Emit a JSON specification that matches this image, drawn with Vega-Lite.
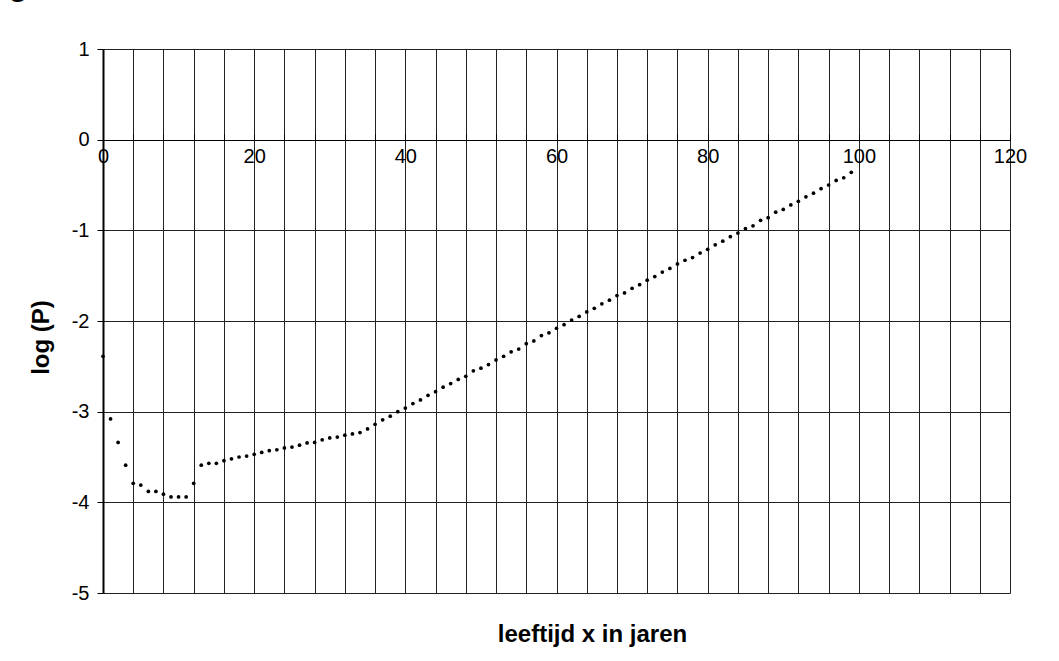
{
  "$schema": "https://vega.github.io/schema/vega-lite/v6.json",
  "width": 907,
  "height": 544,
  "autosize": {"type": "none"},
  "padding": {"left": 103, "top": 49, "right": 49, "bottom": 68},
  "background": "white",
  "title": {
    "text": "g",
    "anchor": "start",
    "frame": "group",
    "dx": -94,
    "dy": -13,
    "offset": 0,
    "baseline": "alphabetic",
    "font": "Liberation Sans",
    "fontSize": 30,
    "fontWeight": "bold",
    "color": "black"
  },
  "config": {
    "view": {"stroke": null},
    "axis": {
      "labelFont": "Liberation Sans",
      "titleFont": "Liberation Sans",
      "labelColor": "black",
      "titleColor": "black",
      "labelFontSize": 20,
      "titleFontSize": 24,
      "titleFontWeight": "bold",
      "gridColor": "#222",
      "gridWidth": 1,
      "gridOpacity": 1,
      "tickColor": "black",
      "domainColor": "black"
    }
  },
  "data": {
    "values": [
      {"age": 0, "logP": -2.39},
      {"age": 1, "logP": -3.08},
      {"age": 2, "logP": -3.34},
      {"age": 3, "logP": -3.59},
      {"age": 4, "logP": -3.79},
      {"age": 5, "logP": -3.81},
      {"age": 6, "logP": -3.88},
      {"age": 7, "logP": -3.88},
      {"age": 8, "logP": -3.91},
      {"age": 9, "logP": -3.94},
      {"age": 10, "logP": -3.94},
      {"age": 11, "logP": -3.94},
      {"age": 12, "logP": -3.79},
      {"age": 13, "logP": -3.59},
      {"age": 14, "logP": -3.57},
      {"age": 15, "logP": -3.57},
      {"age": 16, "logP": -3.54},
      {"age": 17, "logP": -3.52},
      {"age": 18, "logP": -3.5},
      {"age": 19, "logP": -3.49},
      {"age": 20, "logP": -3.47},
      {"age": 21, "logP": -3.45},
      {"age": 22, "logP": -3.43},
      {"age": 23, "logP": -3.42},
      {"age": 24, "logP": -3.4},
      {"age": 25, "logP": -3.39},
      {"age": 26, "logP": -3.37},
      {"age": 27, "logP": -3.345},
      {"age": 28, "logP": -3.34},
      {"age": 29, "logP": -3.31},
      {"age": 30, "logP": -3.29},
      {"age": 31, "logP": -3.28},
      {"age": 32, "logP": -3.26},
      {"age": 33, "logP": -3.245},
      {"age": 34, "logP": -3.23},
      {"age": 35, "logP": -3.19},
      {"age": 36, "logP": -3.14},
      {"age": 37, "logP": -3.09},
      {"age": 38, "logP": -3.05},
      {"age": 39, "logP": -3.0},
      {"age": 40, "logP": -2.96},
      {"age": 41, "logP": -2.91},
      {"age": 42, "logP": -2.87},
      {"age": 43, "logP": -2.82},
      {"age": 44, "logP": -2.78},
      {"age": 45, "logP": -2.73},
      {"age": 46, "logP": -2.69},
      {"age": 47, "logP": -2.645},
      {"age": 48, "logP": -2.61},
      {"age": 49, "logP": -2.55},
      {"age": 50, "logP": -2.52},
      {"age": 51, "logP": -2.48},
      {"age": 52, "logP": -2.43},
      {"age": 53, "logP": -2.39},
      {"age": 54, "logP": -2.34},
      {"age": 55, "logP": -2.31},
      {"age": 56, "logP": -2.25},
      {"age": 57, "logP": -2.22},
      {"age": 58, "logP": -2.16},
      {"age": 59, "logP": -2.13},
      {"age": 60, "logP": -2.08},
      {"age": 61, "logP": -2.04},
      {"age": 62, "logP": -1.99},
      {"age": 63, "logP": -1.95},
      {"age": 64, "logP": -1.9},
      {"age": 65, "logP": -1.86},
      {"age": 66, "logP": -1.81},
      {"age": 67, "logP": -1.77},
      {"age": 68, "logP": -1.72},
      {"age": 69, "logP": -1.69},
      {"age": 70, "logP": -1.64},
      {"age": 71, "logP": -1.6},
      {"age": 72, "logP": -1.55},
      {"age": 73, "logP": -1.51},
      {"age": 74, "logP": -1.46},
      {"age": 75, "logP": -1.42},
      {"age": 76, "logP": -1.37},
      {"age": 77, "logP": -1.33},
      {"age": 78, "logP": -1.3},
      {"age": 79, "logP": -1.25},
      {"age": 80, "logP": -1.21},
      {"age": 81, "logP": -1.16},
      {"age": 82, "logP": -1.12},
      {"age": 83, "logP": -1.07},
      {"age": 84, "logP": -1.03},
      {"age": 85, "logP": -0.98},
      {"age": 86, "logP": -0.95},
      {"age": 87, "logP": -0.89},
      {"age": 88, "logP": -0.86},
      {"age": 89, "logP": -0.8},
      {"age": 90, "logP": -0.77},
      {"age": 91, "logP": -0.72},
      {"age": 92, "logP": -0.68},
      {"age": 93, "logP": -0.63},
      {"age": 94, "logP": -0.59},
      {"age": 95, "logP": -0.54},
      {"age": 96, "logP": -0.5},
      {"age": 97, "logP": -0.45},
      {"age": 98, "logP": -0.42},
      {"age": 99, "logP": -0.36}
    ]
  },
  "mark": {"type": "circle", "size": 14, "color": "black", "opacity": 1},
  "encoding": {
    "x": {
      "field": "age",
      "type": "quantitative",
      "scale": {"domain": [0, 120], "nice": false, "zero": false},
      "axis": {
        "orient": "top",
        "offset": -91,
        "values": [0,4,8,12,16,20,24,28,32,36,40,44,48,52,56,60,64,68,72,76,80,84,88,92,96,100,104,108,112,116,120],
        "labelExpr": "datum.value % 20 === 0 ? datum.label : ''",
        "grid": true,
        "tickSize": 6,
        "labelPadding": -12,
        "labelBaseline": "top",
        "labelFlush": false,
        "labelOverlap": false,
        "domainWidth": 1,
        "title": "leeftijd x in jaren",
        "titleX": 489,
        "titleY": 501,
        "titleBaseline": "alphabetic",
        "titleAnchor": "middle"
      }
    },
    "y": {
      "field": "logP",
      "type": "quantitative",
      "scale": {"domain": [-5, 1], "nice": false, "zero": false},
      "axis": {
        "values": [1, 0, -1, -2, -3, -4, -5],
        "labelExpr": "'' + datum.value",
        "grid": true,
        "tickSize": 6,
        "labelPadding": 8,
        "labelFlush": false,
        "domainWidth": 2,
        "title": "log (P)",
        "titleX": -55,
        "titleY": 288,
        "titleAngle": -90,
        "titleBaseline": "alphabetic",
        "titleAlign": "center"
      }
    }
  }
}
